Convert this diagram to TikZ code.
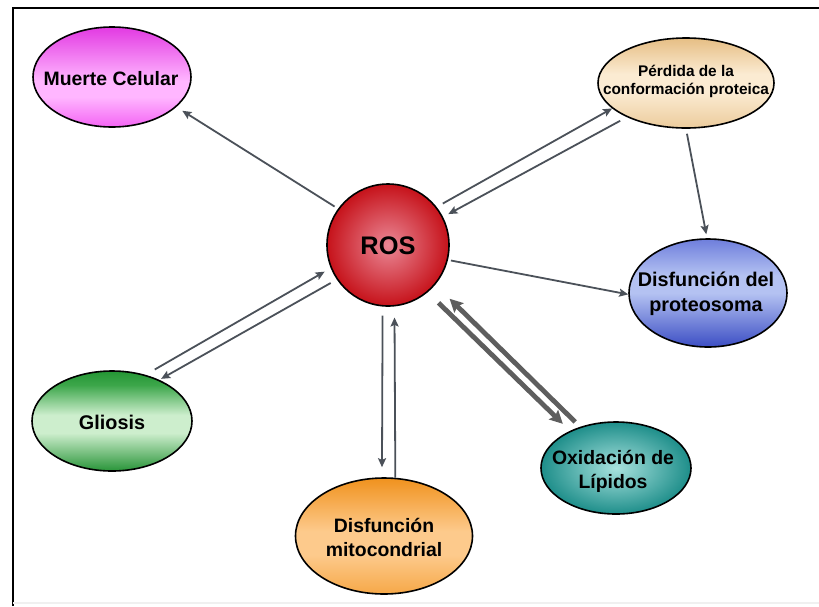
\documentclass[tikz,border=0pt]{standalone}
\usepackage{fontspec}
\setmainfont{Liberation Sans}
\usetikzlibrary{arrows.meta,shapes.geometric}

\definecolor{arrowgray}{HTML}{4B5159}
\definecolor{thickgray}{HTML}{5E5E5E}

% vertical shadings (bottom -> top; 25bp = lower edge, 75bp = upper edge)
\pgfdeclareverticalshading{muerteshade}{100bp}{color(0bp)=({rgb,255:red,244;green,100;blue,244}); color(25bp)=({rgb,255:red,244;green,100;blue,244}); color(40bp)=({rgb,255:red,255;green,182;blue,255}); color(48bp)=({rgb,255:red,255;green,182;blue,255}); color(75bp)=({rgb,255:red,226;green,58;blue,226}); color(100bp)=({rgb,255:red,226;green,58;blue,226})}
\pgfdeclareverticalshading{perdshade}{100bp}{color(0bp)=({rgb,255:red,236;green,204;blue,156}); color(25bp)=({rgb,255:red,236;green,204;blue,156}); color(45bp)=({rgb,255:red,251;green,235;blue,210}); color(55bp)=({rgb,255:red,251;green,235;blue,210}); color(75bp)=({rgb,255:red,230;green,190;blue,132}); color(100bp)=({rgb,255:red,230;green,190;blue,132})}
\pgfdeclareverticalshading{protshade}{100bp}{color(0bp)=({rgb,255:red,60;green,78;blue,196}); color(25bp)=({rgb,255:red,60;green,78;blue,196}); color(50bp)=({rgb,255:red,180;green,194;blue,242}); color(58bp)=({rgb,255:red,180;green,194;blue,242}); color(75bp)=({rgb,255:red,110;green,126;blue,220}); color(100bp)=({rgb,255:red,110;green,126;blue,220})}
\pgfdeclareverticalshading{glioshade}{100bp}{color(0bp)=({rgb,255:red,40;green,148;blue,56}); color(25bp)=({rgb,255:red,40;green,148;blue,56}); color(44bp)=({rgb,255:red,205;green,238;blue,205}); color(53bp)=({rgb,255:red,205;green,238;blue,205}); color(68bp)=({rgb,255:red,60;green,166;blue,74}); color(75bp)=({rgb,255:red,36;green,150;blue,52}); color(100bp)=({rgb,255:red,36;green,150;blue,52})}
\pgfdeclareverticalshading{mitoshade}{100bp}{color(0bp)=({rgb,255:red,246;green,168;blue,72}); color(25bp)=({rgb,255:red,246;green,168;blue,72}); color(42bp)=({rgb,255:red,253;green,202;blue,140}); color(52bp)=({rgb,255:red,253;green,202;blue,140}); color(75bp)=({rgb,255:red,240;green,146;blue,30}); color(100bp)=({rgb,255:red,240;green,146;blue,30})}

\begin{document}
\begin{tikzpicture}[x=0.5pt,y=-0.5pt,
    blob/.style={ellipse, draw=black, line width=0.8pt, inner sep=0pt},
    lbl/.style={font=\bfseries\fontsize{9.7}{12}\selectfont, align=center, inner sep=0pt},
    link/.style={draw=arrowgray, line width=0.9pt, -{Stealth[length=4.5pt,width=4pt,inset=0.8pt]}},
    biglink/.style={draw=thickgray, line width=2.4pt, -{Stealth[length=6.5pt,width=6.5pt,inset=1pt]}}]

    \useasboundingbox (0,0) rectangle (819,606);

    % frame
    \draw[line width=1.3pt] (13,606) -- (13,8) -- (819,8);
    \draw[gray!12, line width=0.6pt] (13,603) -- (819,603);

    % nodes
    \node[circle, draw=black, line width=0.8pt, minimum size=61pt, inner color={rgb,255:red,234;green,136;blue,150}, outer color={rgb,255:red,198;green,18;blue,26}] (ros) at (388,245) {};
    \node[lbl, font=\bfseries\fontsize{12.7}{15}\selectfont] (ros-t) at (388,246) {ROS};

    \node[blob, minimum width=79pt, minimum height=50pt, shading=muerteshade] (muerte) at (112,77) {};
    \node[lbl] (muerte-t) at (111,79) {Muerte Celular};

    \node[blob, minimum width=88pt, minimum height=45pt, shading=perdshade] (perd) at (686,83) {};
    \node[lbl, font=\bfseries\fontsize{7.7}{9}\selectfont] (perd-t) at (686,81) {Pérdida de la\\conformación proteica};

    \node[blob, minimum width=79pt, minimum height=54pt, shading=protshade] (prot) at (708,293) {};
    \node[lbl, font=\bfseries\fontsize{9.9}{12.5}\selectfont] (prot-t) at (706,294) {Disfunción del\\proteosoma};

    \node[blob, minimum width=80pt, minimum height=50pt, shading=glioshade] (glio) at (112,421) {};
    \node[lbl, font=\bfseries\fontsize{9.9}{12}\selectfont] (glio-t) at (112,422) {Gliosis};

    \node[blob, minimum width=88.5pt, minimum height=58pt, shading=mitoshade] (mito) at (384,536) {};
    \node[lbl] (mito-t) at (384,537) {Disfunción\\mitocondrial};

    \node[blob, minimum width=75pt, minimum height=46pt, inner color={rgb,255:red,168;green,226;blue,222}, outer color={rgb,255:red,30;green,142;blue,138}] (lip) at (616,468) {};
    \node[lbl] (lip-t) at (613,471) {Oxidación de\\Lípidos};

    % connectors
    \draw[link, shorten <=2pt, shorten >=3.5pt] (ros.144) -- (muerte.-25);
    \draw[link, shorten <=3.5pt] (ros.38) -- (perd.199);
    \draw[link, shorten <=3.8pt, shorten >=3pt] (perd.210) -- (ros.27);
    \draw[link, shorten <=2.5pt, shorten >=2pt] (perd.-90) -- (prot.91);
    \draw[link, shorten <=1.5pt] (ros.-14) -- (prot.181);
    \draw[link, shorten <=5.3pt, shorten >=3.5pt] (glio.54) -- (ros.202);
    \draw[link, shorten <=3.5pt, shorten >=1pt] (ros.214) -- (glio.41);
    \draw[link, shorten <=4.5pt, shorten >=5pt] (ros.-95) -- (mito.92);
    \draw[link, shorten >=5.5pt] (mito.79) -- (ros.-84);
    \draw[biglink, shorten <=7.5pt, shorten >=5pt] (ros.-50) -- (lip.141);
    \draw[biglink, shorten <=3.5pt, shorten >=10pt] (lip.131) -- (ros.-40);

\end{tikzpicture}
\end{document}
